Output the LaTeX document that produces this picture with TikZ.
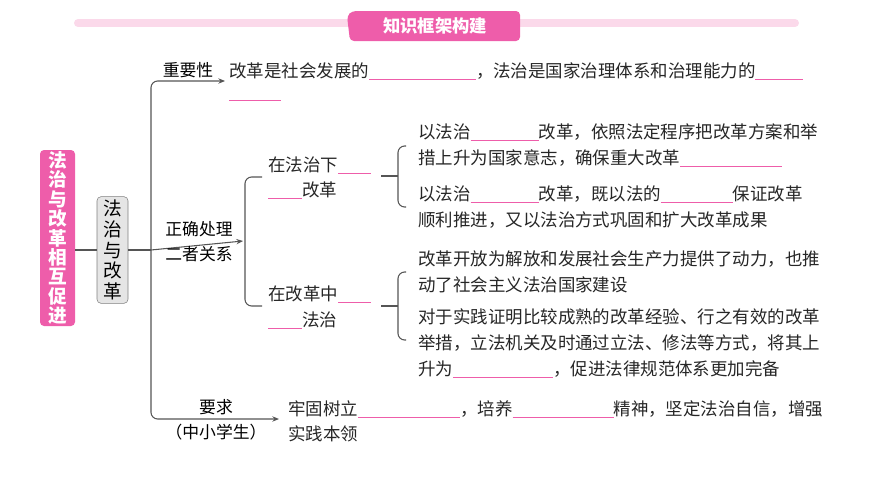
\documentclass[tikz,border=0pt]{standalone}
\usepackage{fontspec}
\setmainfont{Noto Sans CJK SC}
\usetikzlibrary{arrows.meta}
\definecolor{pk}{HTML}{EE5DAA}
\definecolor{lpk}{HTML}{FBD9EA}
\definecolor{ln}{HTML}{555555}
\newcommand{\bl}[1]{\textcolor{pk}{\rule[-2pt]{\dimexpr #1pt*3/4\relax}{0.8pt}}}
\begin{document}
\begin{tikzpicture}[x=0.75pt,y=-0.75pt,
  txt/.style={anchor=west,inner sep=0pt,font=\fontsize{13.1}{14}\selectfont,text=black!85},
  lab/.style={inner sep=0pt,font=\fontsize{12.6}{14}\selectfont},
  con/.style={draw=ln,line width=0.8pt,rounded corners=5pt},
  arr/.style={con,-{Stealth[length=5pt,width=4pt]}}]
\useasboundingbox (0,0) rectangle (870,489);
% header
\draw[lpk,line width=6pt,line cap=round] (78,23) -- (795,23);
\fill[pk,rounded corners=3pt] (347,16) -- (352,11) -- (520,11) -- (520,41) -- (350,41) -- cycle;
\node[inner sep=0pt,text=white,font=\fontsize{13}{14}\bfseries\selectfont] (hd) at (435,26) {知识框架构建};
% left boxes
\node[draw=none,fill=pk,rounded corners=3pt,minimum width=26.25pt,minimum height=132pt,text width=16pt,align=center,inner sep=0pt,text=white,font=\fontsize{14}{14.6}\bfseries\selectfont] (main) at (57.5,238) {法\\治\\与\\改\\革\\相\\互\\促\\进};
\node[draw=gray,fill=black!10,rounded corners=3pt,minimum width=23.25pt,minimum height=80pt,text width=16pt,align=center,inner sep=0pt,font=\fontsize{14}{15.5}\selectfont] (gb) at (112.5,250) {法\\治\\与\\改\\革};
\coordinate (j) at (151,250);
\draw[con] (main.east|-gb) -- (gb.west);
\draw[con] (gb.east) -- (j);
\coordinate (a1) at (225,81); \coordinate (a2) at (243,241); \coordinate (a3) at (279,419);
\draw[arr] (j) -- (151,81) -- (a1);
\draw[arr] (j) -- (a2);
\draw[arr] (j) -- (151,419) -- (a3);
\node[lab] (l1) at (188,70) {重要性};
\node[lab] (l2) at (199,229) {正确处理};
\node[lab] (l3) at (199,254) {二者关系};
\node[lab] (l4) at (216,407) {要求};
\node[lab] (l5) at (216,432) {（中小学生）};
% top text
\node[txt] (t1) at (229,71) {改革是社会发展的\bl{107}，法治是国家治理体系和治理能力的\bl{48}};
\node[txt] (t2) at (229,100) {\bl{52}};
% sub bracket
\coordinate (b1) at (262,177); \coordinate (b2) at (262,306);
\draw[con] (b1) -- (245,177) -- (245,306) -- (b2);
\node[txt] (s1) at (268,165) {在法治下\bl{33}};
\node[txt] (s2) at (268,190) {\bl{34}改革};
\node[txt] (s3) at (268,294) {在改革中\bl{33}};
\node[txt] (s4) at (268,320) {\bl{34}法治};
% right brackets
\draw[con] (381,176) -- (398,176);
\draw[con] (406,146) -- (398,146) -- (398,207) -- (406,207);
\draw[con] (381,306) -- (398,306);
\draw[con] (406,272) -- (398,272) -- (398,340) -- (406,340);
\node[txt] (r1) at (418,132) {以法治\bl{68}改革，依照法定程序把改革方案和举};
\node[txt] (r2) at (418,158) {措上升为国家意志，确保重大改革\bl{102}};
\node[txt] (r3) at (418,194) {以法治\bl{68}改革，既以法的\bl{72}保证改革};
\node[txt] (r4) at (418,220) {顺利推进，又以法治方式巩固和扩大改革成果};
\node[txt] (r5) at (418,259) {改革开放为解放和发展社会生产力提供了动力，也推};
\node[txt] (r6) at (418,285) {动了社会主义法治国家建设};
\node[txt] (r7) at (418,317) {对于实践证明比较成熟的改革经验、行之有效的改革};
\node[txt] (r8) at (418,343) {举措，立法机关及时通过立法、修法等方式，将其上};
\node[txt] (r9) at (418,369) {升为\bl{100}，促进法律规范体系更加完备};
\node[txt] (q1) at (288,409) {牢固树立\bl{102}，培养\bl{101}精神，坚定法治自信，增强};
\node[txt] (q2) at (288,434) {实践本领};
\end{tikzpicture}
\end{document}
